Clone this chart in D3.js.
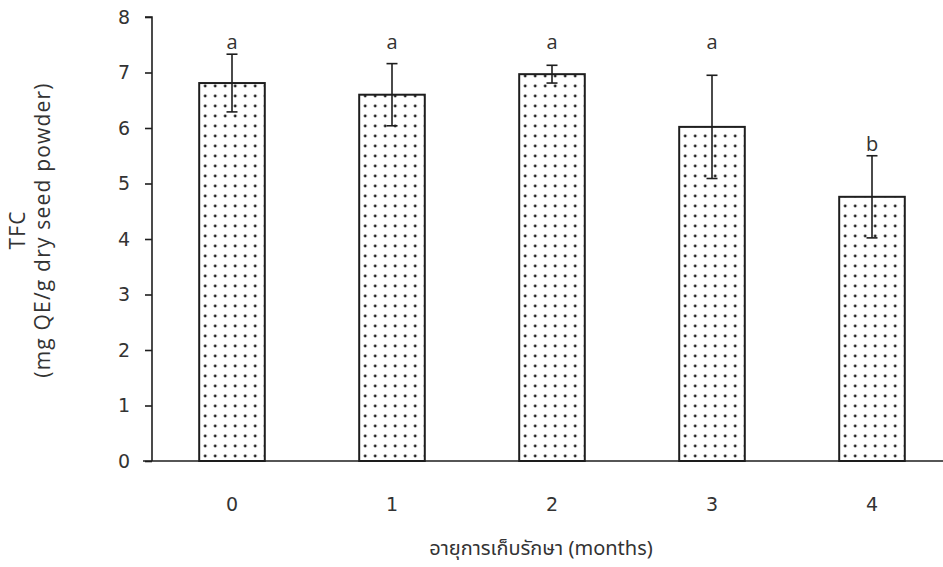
<!DOCTYPE html>
<html>
<head>
<meta charset="utf-8">
<script src="https://cdn.jsdelivr.net/npm/d3@7"></script>
<style>
  html, body { margin: 0; padding: 0; background: #fff; }
  svg { display: block; }
</style>
</head>
<body>
<svg id="chart" width="943" height="567"></svg>
<script>
// Storage time (months) and total flavonoid content
const months = ["0", "1", "2", "3", "4"];
const tfcMean = [6.81, 6.60, 6.97, 6.02, 4.76];
const tfcSD = [0.52, 0.56, 0.16, 0.93, 0.74];
const letters = ["a", "a", "a", "a", "b"];
const yTicks = [0, 1, 2, 3, 4, 5, 6, 7, 8];

const svg = d3.select("#chart");
const W = 943, H = 567;
const plot = { left: 152, right: 952, top: 17, bottom: 461 };

const x = d3.scaleBand()
  .domain(months)
  .range([plot.left, plot.right])
  .paddingInner(0.59)
  .paddingOuter(0.295);

const y = d3.scaleLinear()
  .domain([0, 8])
  .range([plot.bottom, plot.top]);

const ink = "#1e1e1e";
const txt = "#333";
const numFont = "'DejaVu Sans', sans-serif";
const labelFont = "'Open Sans', 'Noto Sans', sans-serif";

// Dotted fill for the bars
const defs = svg.append("defs");
const pat = defs.append("pattern")
  .attr("id", "dots")
  .attr("patternUnits", "userSpaceOnUse")
  .attr("width", 10)
  .attr("height", 10)
  .attr("x", x(months[0]) + 2)
  .attr("y", 2);
pat.append("rect").attr("width", 10).attr("height", 10).attr("fill", "#fff");
pat.append("circle").attr("cx", 4).attr("cy", 4).attr("r", 1.45).attr("fill", "#222");

// Bars
svg.append("g")
  .selectAll("rect")
  .data(months)
  .join("rect")
  .attr("x", d => x(d))
  .attr("y", (d, i) => y(tfcMean[i]))
  .attr("width", x.bandwidth())
  .attr("height", (d, i) => y(0) - y(tfcMean[i]))
  .attr("fill", "url(#dots)")
  .attr("stroke", ink)
  .attr("stroke-width", 2);

// Error bars
const capHalf = 5.5;
const err = svg.append("g").attr("stroke", ink).attr("stroke-width", 1.6).attr("fill", "none");
months.forEach((m, i) => {
  const cx = x(m) + x.bandwidth() / 2;
  const hi = y(tfcMean[i] + tfcSD[i]);
  const lo = y(tfcMean[i] - tfcSD[i]);
  err.append("line").attr("x1", cx).attr("x2", cx).attr("y1", hi).attr("y2", lo);
  err.append("line").attr("x1", cx - capHalf).attr("x2", cx + capHalf).attr("y1", hi).attr("y2", hi);
  err.append("line").attr("x1", cx - capHalf).attr("x2", cx + capHalf).attr("y1", lo).attr("y2", lo);
});

// Significance letters, placed above the highest error bar of each letter group
const groupTop = {};
letters.forEach((l, i) => {
  groupTop[l] = Math.max(groupTop[l] || 0, tfcMean[i] + tfcSD[i]);
});
svg.append("g")
  .selectAll("text")
  .data(months)
  .join("text")
  .attr("x", d => x(d) + x.bandwidth() / 2)
  .attr("y", (d, i) => y(groupTop[letters[i]]) - 5)
  .attr("text-anchor", "middle")
  .style("font-family", labelFont)
  .style("font-size", "20px")
  .style("fill", txt)
  .text((d, i) => letters[i]);

// Y axis
const yAxis = d3.axisLeft(y).tickValues(yTicks).tickSize(7).tickPadding(15).tickFormat(d3.format("d"));
const gy = svg.append("g").attr("transform", `translate(${plot.left},0)`).call(yAxis);
gy.select(".domain").attr("stroke", ink).attr("stroke-width", 1.6).attr("d", `M-7,${plot.top}H0V${plot.bottom}`);
gy.selectAll(".tick line").attr("stroke", ink).attr("stroke-width", 1.6);
gy.selectAll(".tick text")
  .style("font-family", numFont).style("font-size", "19px").style("fill", txt);

// X axis
const xAxis = d3.axisBottom(x).tickSize(0).tickPadding(37);
const gx = svg.append("g").attr("transform", `translate(0,${plot.bottom})`).call(xAxis);
gx.select(".domain").attr("stroke", ink).attr("stroke-width", 1.6).attr("d", `M${plot.left - 9},0H${W}`);
gx.selectAll(".tick text")
  .style("font-family", numFont).style("font-size", "19px").style("fill", txt);

// Axis titles
svg.append("text")
  .attr("x", 541).attr("y", 555)
  .attr("text-anchor", "middle")
  .style("font-family", "Tahoma, 'Noto Sans Thai', 'Open Sans', 'Noto Sans', sans-serif")
  .style("font-size", "20px")
  .style("fill", txt)
  .text("อายุการเก็บรักษา (months)");

const yt = svg.append("text")
  .attr("transform", "translate(0,230) rotate(-90)")
  .attr("text-anchor", "middle")
  .style("font-family", labelFont)
  .style("font-size", "21px")
  .style("letter-spacing", "1.2px")
  .style("fill", txt);
yt.append("tspan").attr("x", 0).attr("y", 25).text("TFC");
yt.append("tspan").attr("x", 0).attr("y", 50).text("(mg QE/g dry seed powder)");
</script>
</body>
</html>
